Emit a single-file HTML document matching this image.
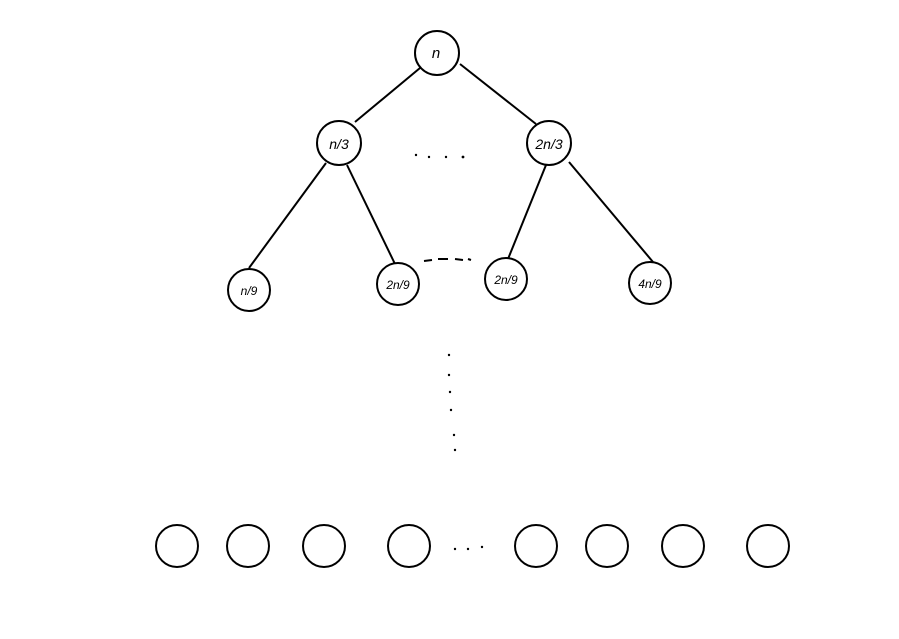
<!DOCTYPE html>
<html><head><style>html,body{margin:0;padding:0;background:#fff}</style></head>
<body>
<svg width="899" height="634" viewBox="0 0 899 634" xmlns="http://www.w3.org/2000/svg">
<rect width="899" height="634" fill="#fff"/>
<g stroke="#000" stroke-width="2" fill="none">
<line x1="420" y1="68" x2="355" y2="122"/>
<line x1="460" y1="64" x2="536" y2="124"/>
<line x1="326" y1="163" x2="249" y2="268"/>
<line x1="347" y1="165" x2="395" y2="264"/>
<line x1="546" y1="165" x2="508" y2="259"/>
<line x1="569" y1="162" x2="653" y2="262"/>
<circle cx="437" cy="53" r="22" fill="#fff"/>
<circle cx="339" cy="143" r="22" fill="#fff"/>
<circle cx="549" cy="143" r="22" fill="#fff"/>
<circle cx="249" cy="290" r="21" fill="#fff"/>
<circle cx="398" cy="284" r="21" fill="#fff"/>
<circle cx="506" cy="279" r="21" fill="#fff"/>
<circle cx="650" cy="283" r="21" fill="#fff"/>
<circle cx="177" cy="546" r="21"/>
<circle cx="248" cy="546" r="21"/>
<circle cx="324" cy="546" r="21"/>
<circle cx="409" cy="546" r="21"/>
<circle cx="536" cy="546" r="21"/>
<circle cx="607" cy="546" r="21"/>
<circle cx="683" cy="546" r="21"/>
<circle cx="768" cy="546" r="21"/>
<path d="M424 261 L432 260 M438 259 L448 259 M455 259 L463 260 M468 259 L471 260"/>
</g>
<g fill="#000">
<circle cx="416" cy="155" r="1.2"/><circle cx="429" cy="157" r="1.2"/><circle cx="446" cy="157" r="1.2"/><circle cx="463" cy="157" r="1.4"/>
<circle cx="449" cy="355" r="1.2"/><circle cx="449" cy="375" r="1.2"/><circle cx="450" cy="392" r="1.2"/><circle cx="451" cy="410" r="1.2"/><circle cx="454" cy="435" r="1.2"/><circle cx="455" cy="450" r="1.2"/>
<circle cx="455" cy="549" r="1.2"/><circle cx="468" cy="549" r="1.2"/><circle cx="482" cy="547" r="1.2"/>
</g>
<g font-family="Liberation Sans, sans-serif" font-style="italic" text-anchor="middle" fill="#000">
<text x="436" y="58" font-size="15">n</text>
<text x="339" y="149" font-size="14">n/3</text>
<text x="549" y="149" font-size="14">2n/3</text>
<text x="249" y="295" font-size="12">n/9</text>
<text x="398" y="289" font-size="12">2n/9</text>
<text x="506" y="284" font-size="12">2n/9</text>
<text x="650" y="288" font-size="12">4n/9</text>
</g>
</svg>
</body></html>
